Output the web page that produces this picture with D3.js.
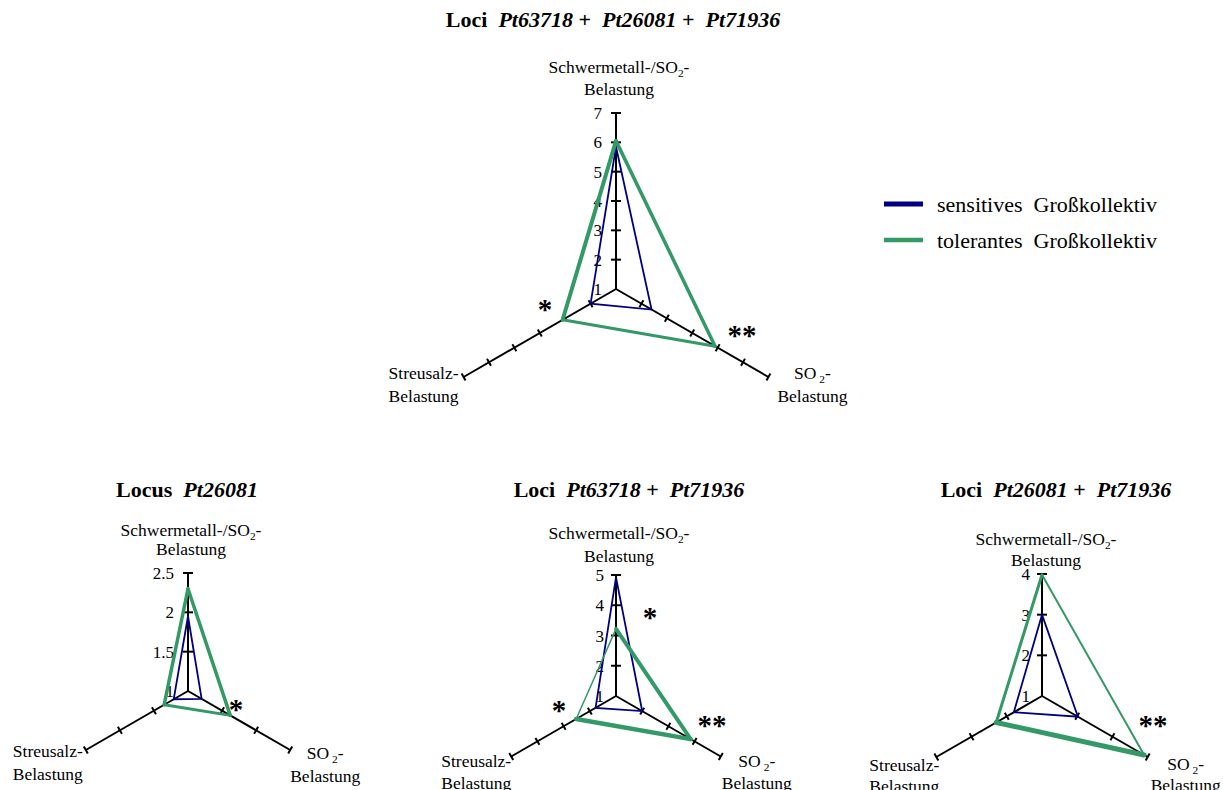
<!DOCTYPE html>
<html><head><meta charset="utf-8">
<script src="https://cdn.jsdelivr.net/npm/d3@7"></script>
<style>
body{margin:0;background:#fff}
svg text{font-family:"Liberation Serif","Times New Roman",serif;fill:#000}
</style></head><body>
<svg id="chart" width="1223" height="790"></svg>
<script>
// Axes of every radar: Schwermetall-/SO2 (top), SO2 (lower right), Streusalz (lower left)
const axisKeys = ["metal", "so2", "salt"];
const seriesNames = ["sensitives  Großkollektiv", "tolerantes  Großkollektiv"];

// Panel A: Loci Pt63718 + Pt26081 + Pt71936
const lociA = ["Pt63718", "Pt26081", "Pt71936"];
const ticksA = [1, 2, 3, 4, 5, 6, 7];
const sensitiveA = [5.85, 2.4, 2.0];
const tolerantA = [6.05, 4.9, 3.1];
const signifA = ["", "**", "*"];

// Panel B: Locus Pt26081
const lociB = ["Pt26081"];
const ticksB = [1, 1.5, 2, 2.5];
const sensitiveB = [1.95, 1.2, 1.21];
const tolerantB = [2.3, 1.62, 1.35];
const signifB = ["", "*", ""];

// Panel C: Loci Pt63718 + Pt71936
const lociC = ["Pt63718", "Pt71936"];
const ticksC = [1, 2, 3, 4, 5];
const sensitiveC = [4.92, 2.0, 1.78];
const tolerantC = [3.22, 3.85, 2.52];
const signifC = ["*", "**", "*"];

// Panel D: Loci Pt26081 + Pt71936
const lociD = ["Pt26081", "Pt71936"];
const ticksD = [1, 2, 3, 4];
const sensitiveD = [3.0, 2.02, 1.8];
const tolerantD = [3.98, 3.9, 2.3];
const signifD = ["", "**", ""];

const BLUE = "#000080", GREEN = "#339966";

const panels = [
  {loci: lociA, ticks: ticksA, sens: sensitiveA, tol: tolerantA, sig: signifA,
   cx: 616, cy: 289, R: 176, titleY: 27, titleX: 613,
   topLab: [3, -46, -24], leftLab: [-40, -4, 19], rightLab: [44, -4, 19],
   sigPos: [null, [126, 40], [-71, 14]], gw: [3.5, 3, 4], lab: 14},
  {loci: lociB, ticks: ticksB, sens: sensitiveB, tol: tolerantB, sig: signifB,
   cx: 188, cy: 691, R: 118, titleY: 497, titleX: 187,
   topLab: [3, -43, -24], leftLab: [-38, 1, 24], rightLab: [35, 3, 26],
   sigPos: [null, [48, 12], null], gw: [3.5, 3, 3.5], lab: 14},
  {loci: lociC, ticks: ticksC, sens: sensitiveC, tol: tolerantC, sig: signifC,
   cx: 616, cy: 696, R: 121, titleY: 497, titleX: 629,
   topLab: [3, -42, -19], leftLab: [-35, 4, 26], rightLab: [36, 4, 26],
   sigPos: [[34, -85], [96, 23], [-57, 8]], gw: [4, 4.5, 1.5], lab: 12},
  {loci: lociD, ticks: ticksD, sens: sensitiveD, tol: tolerantD, sig: signifD,
   cx: 1042, cy: 696, R: 122, titleY: 497, titleX: 1056,
   topLab: [4, -35, -14], leftLab: [-32, 8, 29], rightLab: [38, 7, 28],
   sigPos: [null, [111, 23], null], gw: [2, 5, 3], lab: 12}
];

const svg = d3.select("#chart");

function drawPanel(p) {
  const g = svg.append("g");
  const r = d3.scaleLinear().domain([p.ticks[0], p.ticks[p.ticks.length - 1]]).range([0, p.R]);
  const ang = i => i * 2 * Math.PI / 3;
  const pt = (i, v) => [p.cx + r(v) * Math.sin(ang(i)), p.cy - r(v) * Math.cos(ang(i))];
  const maxV = p.ticks[p.ticks.length - 1];

  // title
  const t = g.append("text").attr("x", p.titleX).attr("y", p.titleY)
    .attr("text-anchor", "middle").attr("font-size", 22).attr("font-weight", "bold")
    .attr("xml:space", "preserve");
  t.append("tspan").text(p.loci.length > 1 ? "Loci  " : "Locus  ");
  p.loci.forEach((l, k) => {
    t.append("tspan").attr("font-style", "italic").text(l);
    if (k < p.loci.length - 1) t.append("tspan").text(" +  ");
  });

  // axes
  axisKeys.forEach((k, i) => {
    const [x2, y2] = pt(i, maxV);
    g.append("line").attr("x1", p.cx).attr("y1", p.cy).attr("x2", x2).attr("y2", y2)
      .attr("stroke", "#000").attr("stroke-width", 2);
    const px = Math.cos(ang(i)), py = Math.sin(ang(i));
    const hl = i === 0 ? 5 : 4;
    p.ticks.slice(1).forEach(v => {
      const [x, y] = pt(i, v);
      g.append("line").attr("x1", x - px * hl).attr("y1", y - py * hl)
        .attr("x2", x + px * hl).attr("y2", y + py * hl)
        .attr("stroke", "#000").attr("stroke-width", 2);
    });
  });

  // tick labels on the top axis
  p.ticks.forEach(v => {
    const [x, y] = pt(0, v);
    g.append("text").attr("x", x - p.lab).attr("y", y).attr("dy", "0.36em")
      .attr("text-anchor", "end").attr("font-size", 17).text(String(v));
  });

  // series polygons
  const lineGen = d3.line();
  const sensPts = p.sens.map((v, i) => pt(i, v));
  g.append("path").attr("d", lineGen(sensPts) + "Z")
    .attr("fill", "none").attr("stroke", BLUE).attr("stroke-width", 1.8)
    .attr("stroke-linejoin", "miter");
  const tolPts = p.tol.map((v, i) => pt(i, v));
  tolPts.forEach((a, i) => {
    const b = tolPts[(i + 1) % 3];
    g.append("line").attr("x1", a[0]).attr("y1", a[1]).attr("x2", b[0]).attr("y2", b[1])
      .attr("stroke", GREEN).attr("stroke-width", p.gw[i]).attr("stroke-linecap", "round");
  });

  // axis labels
  const fs = 17.5;
  const [tx, ty] = pt(0, maxV);
  const top1 = g.append("text").attr("x", tx + p.topLab[0]).attr("y", ty + p.topLab[1])
    .attr("dy", "0.35em").attr("text-anchor", "middle").attr("font-size", fs);
  top1.append("tspan").text("Schwermetall-/SO");
  top1.append("tspan").attr("font-size", fs * 0.65).attr("dy", 4).text("2");
  top1.append("tspan").attr("dy", -4).text("-");
  g.append("text").attr("x", tx + p.topLab[0]).attr("y", ty + p.topLab[2])
    .attr("dy", "0.35em").attr("text-anchor", "middle").attr("font-size", fs).text("Belastung");

  const [sx, sy] = pt(2, maxV);
  g.append("text").attr("x", sx + p.leftLab[0]).attr("y", sy + p.leftLab[1])
    .attr("dy", "0.35em").attr("text-anchor", "middle").attr("font-size", fs).text("Streusalz-");
  g.append("text").attr("x", sx + p.leftLab[0]).attr("y", sy + p.leftLab[2])
    .attr("dy", "0.35em").attr("text-anchor", "middle").attr("font-size", fs).text("Belastung");

  const [rx, ry] = pt(1, maxV);
  const so = g.append("text").attr("x", rx + p.rightLab[0]).attr("y", ry + p.rightLab[1])
    .attr("dy", "0.35em").attr("text-anchor", "middle").attr("font-size", fs);
  so.append("tspan").text("SO");
  so.append("tspan").attr("font-size", fs * 0.65).attr("dx", 3).attr("dy", 4).text("2");
  so.append("tspan").attr("dy", -4).text("-");
  g.append("text").attr("x", rx + p.rightLab[0]).attr("y", ry + p.rightLab[2])
    .attr("dy", "0.35em").attr("text-anchor", "middle").attr("font-size", fs).text("Belastung");

  // significance marks
  p.sig.forEach((s, i) => {
    if (!s) return;
    const [ox, oy] = p.sigPos[i];
    g.append("text").attr("x", p.cx + ox).attr("y", p.cy + oy).attr("dy", "0.55em")
      .attr("text-anchor", "middle").attr("font-size", 29).attr("font-weight", "bold")
      .text(s);
  });
}

panels.forEach(drawPanel);

// legend
const legend = svg.append("g");
[BLUE, GREEN].forEach((c, i) => {
  const y = 204 + i * 36;
  legend.append("line").attr("x1", 884).attr("x2", 923).attr("y1", y).attr("y2", y)
    .attr("stroke", c).attr("stroke-width", i === 0 ? 5 : 4.5);
  legend.append("text").attr("x", 937).attr("y", y).attr("dy", "0.35em")
    .attr("font-size", 22).attr("xml:space", "preserve").text(seriesNames[i]);
});
</script>
</body></html>
